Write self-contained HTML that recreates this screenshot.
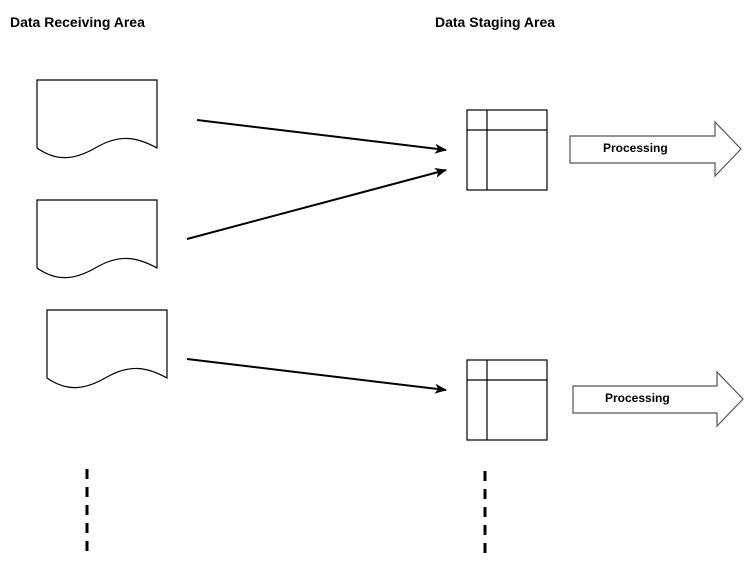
<!DOCTYPE html>
<html><head><style>
html,body{margin:0;padding:0;background:#fff;}
svg{display:block;}
text{font-family:"Liberation Sans",Arial,sans-serif;font-weight:bold;}
</style></head><body>
<svg width="753" height="568" viewBox="0 0 753 568" xmlns="http://www.w3.org/2000/svg">
<defs>
<marker id="ah" markerWidth="12" markerHeight="10" refX="11" refY="5" orient="auto" markerUnits="userSpaceOnUse">
<path d="M0,0 L12,5 L0,10 L3,5 Z" fill="#000"/>
</marker>
</defs>
<text x="10" y="27" font-size="14">Data Receiving Area</text>
<text x="435" y="27" font-size="14">Data Staging Area</text>
<g fill="#fff" stroke="#000" stroke-width="1.2">
<path d="M37,80 H157 V148 C137,137 120,134 97,147 C75,160 57,162 37,148 Z"/>
<path d="M37,200 H157 V268 C137,257 120,254 97,267 C75,280 57,282 37,268 Z"/>
<path d="M47,310 H167 V378 C147,367 130,364 107,377 C85,390 67,392 47,378 Z"/>
<rect x="467" y="110" width="80" height="80"/>
<line x1="487" y1="110" x2="487" y2="190"/>
<line x1="467" y1="130" x2="547" y2="130"/>
<rect x="467" y="360" width="80" height="80"/>
<line x1="487" y1="360" x2="487" y2="440"/>
<line x1="467" y1="380" x2="547" y2="380"/>
</g>
<g stroke="#000" stroke-width="2" marker-end="url(#ah)">
<line x1="197" y1="120" x2="446" y2="150"/>
<line x1="187" y1="239" x2="446" y2="170"/>
<line x1="187" y1="359" x2="446" y2="390"/>
</g>
<g fill="#fff" stroke="#555" stroke-width="1.2">
<path d="M570,136 H715 V122 L741,149 L715,176 V163 H570 Z"/>
<path d="M573,386 H717 V372 L743,399 L717,426 V413 H573 Z"/>
</g>
<text x="603" y="152" font-size="12">Processing</text>
<text x="605" y="402" font-size="12">Processing</text>
<g stroke="#000" stroke-width="3" stroke-dasharray="10,8">
<line x1="87" y1="469" x2="87" y2="551"/>
<line x1="485" y1="471" x2="485" y2="553"/>
</g>
</svg>
</body></html>
